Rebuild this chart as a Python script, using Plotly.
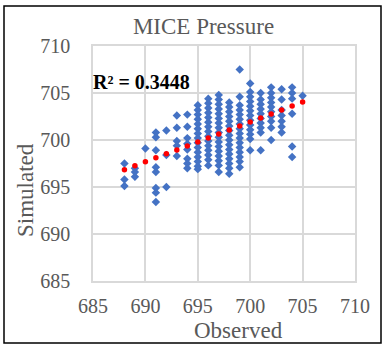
import numpy as np
import plotly.graph_objects as go

# Observed values (x) and simulated values (y), grouped by observed value
col_688 = [697.5, 695.8, 695.1]
col_689 = [697.0, 696.6, 696.1]
col_690 = [699.1]
col_691 = [700.8, 700.3, 698.9, 697.1, 696.6, 694.9, 694.4, 693.4]
col_692 = [701.0, 698.4, 695.0]
col_693 = [702.6, 701.3, 699.9, 699.4, 698.3]
col_694 = [702.7, 701.4, 700.2, 699.6, 699.0, 698.0, 697.5, 697.0]
col_695 = [703.7, 703.2, 702.7, 702.2, 701.7, 701.2, 700.7, 700.2, 699.7, 699.2,
           698.7, 698.2, 697.7, 697.2, 696.9]
col_696 = [704.4, 703.9, 703.4, 702.9, 702.4, 701.9, 701.4, 700.9, 700.4, 699.9,
           699.4, 698.9, 698.4, 697.9, 697.3]
col_697 = [704.8, 704.3, 703.8, 703.3, 702.8, 702.3, 701.8, 701.3, 700.8, 700.3,
           699.8, 699.3, 698.8, 698.3, 697.8, 697.3, 696.6]
col_698 = [704.0, 703.5, 703.0, 702.5, 702.0, 701.5, 701.0, 700.5, 700.0, 699.5,
           699.0, 698.5, 698.0, 697.5, 697.0, 696.4]
col_699 = [707.5, 704.6, 703.7, 703.2, 702.7, 702.2, 701.7, 701.2, 700.7, 700.2,
           699.7, 699.2, 698.7, 698.2, 697.7, 697.1]
col_700 = [706.0, 705.1, 704.6, 704.1, 703.6, 703.1, 702.6, 702.1, 701.6, 701.1,
           700.6, 700.1, 698.9]
col_701 = [705.0, 704.3, 703.8, 703.3, 702.8, 702.3, 701.8, 701.3, 700.8, 698.9]
col_702 = [705.6, 705.0, 704.5, 704.0, 703.5, 703.0, 702.5, 702.0, 701.3, 700.0]
col_703 = [705.4, 704.3, 703.2, 702.6, 702.0, 701.4, 700.8]
col_704 = [705.6, 705.0, 704.4, 702.8, 699.3, 698.2]
col_705 = [704.7]

columns = {
    688: col_688, 689: col_689, 690: col_690, 691: col_691, 692: col_692,
    693: col_693, 694: col_694, 695: col_695, 696: col_696, 697: col_697,
    698: col_698, 699: col_699, 700: col_700, 701: col_701, 702: col_702,
    703: col_703, 704: col_704, 705: col_705,
}

axis_ticks = [685, 690, 695, 700, 705, 710]
r2_label = "R² = 0.3448"

observed = []
simulated = []
for xv, ys in columns.items():
    observed += [xv] * len(ys)
    simulated += ys
observed = np.array(observed, dtype=float)
simulated = np.array(simulated, dtype=float)

slope, intercept = np.polyfit(observed, simulated, 1)
trend_x = np.arange(observed.min(), observed.max() + 1)
trend_y = slope * trend_x + intercept

FONT = "Liberation Serif"
GRAY = "#595959"
GRID = "#D9D9D9"

fig = go.Figure()
fig.add_trace(go.Scatter(
    x=observed, y=simulated, mode="markers",
    marker=dict(symbol="diamond", size=6.5, color="#4472C4"),
    showlegend=False, hoverinfo="skip"))
fig.add_trace(go.Scatter(
    x=trend_x, y=trend_y, mode="markers",
    marker=dict(symbol="circle", size=5.5, color="#FF0000"),
    showlegend=False, hoverinfo="skip"))

axis_common = dict(
    range=[685, 710], tickvals=axis_ticks, showgrid=True, gridcolor=GRID,
    gridwidth=1.5, zeroline=False, showline=True, mirror=True,
    linecolor=GRID, linewidth=1.5, ticks="",
    tickfont=dict(family=FONT, size=20, color=GRAY),
)
fig.update_xaxes(**axis_common, ticklabelstandoff=6)
fig.update_yaxes(**axis_common, ticklabelstandoff=17)

L, R, T, B = 93, 29, 46, 65
W, H = 384, 346
pw, ph = W - L - R, H - T - B

def px(x):
    return (x - L) / pw

def py(y):
    return (H - B - y) / ph

fig.update_layout(
    width=W, height=H, margin=dict(l=L, r=R, t=T, b=B),
    paper_bgcolor="white", plot_bgcolor="white",
    title=dict(text="MICE Pressure", font=dict(family=FONT, size=23, color=GRAY),
               x=px(203.5), xref="paper", xanchor="center",
               y=1 - 26 / H, yref="container", yanchor="middle"),
    annotations=[
        dict(text="Observed", xref="paper", yref="paper", x=px(238), y=py(330),
             xanchor="center", yanchor="middle", showarrow=False,
             font=dict(family=FONT, size=23, color=GRAY)),
        dict(text="Simulated", xref="paper", yref="paper", x=px(25), y=py(190),
             xanchor="center", yanchor="middle", showarrow=False, textangle=-90,
             font=dict(family=FONT, size=23, color=GRAY)),
        dict(text="<b>" + r2_label + "</b>", xref="paper", yref="paper",
             x=px(91), y=py(82), xanchor="left", yanchor="middle", showarrow=False,
             font=dict(family=FONT, size=20, color="black")),
    ],
    shapes=[
        dict(type="rect", xref="paper", yref="paper",
             x0=px(4), x1=px(381), y0=py(343), y1=py(6),
             line=dict(color="black", width=1.5), fillcolor="rgba(0,0,0,0)",
             layer="below"),
    ],
)

fig.write_html("out.html")
